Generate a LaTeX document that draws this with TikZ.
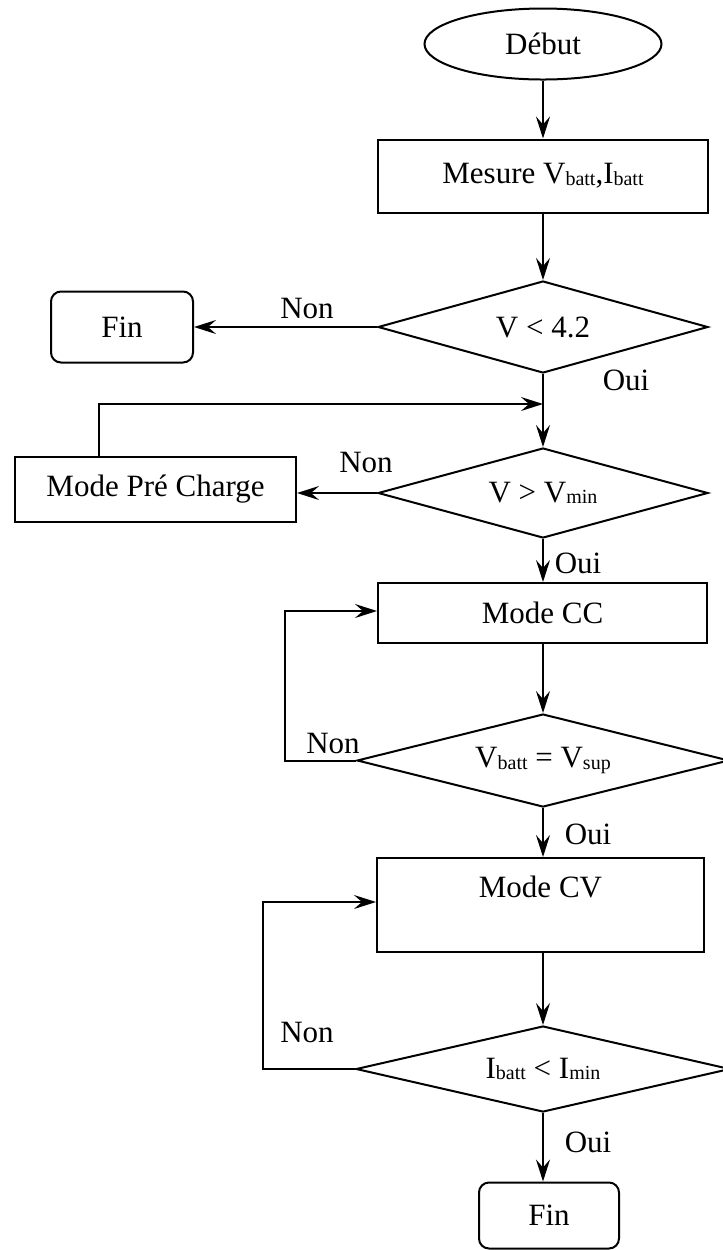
\documentclass[tikz,border=0pt]{standalone}
\usepackage{fontspec}
\setmainfont{Liberation Serif}
\usetikzlibrary{arrows.meta}
\usetikzlibrary{shapes.geometric}

% lowered small index, as in V_batt
\newcommand{\idx}[1]{\raisebox{-0.7pt}{\fontsize{10}{11}\selectfont #1}}

\begin{document}
\begin{tikzpicture}[x=0.5pt,y=-0.5pt,
        every node/.style={font=\fontsize{15.5}{18}\selectfont},
        bloc/.style={draw,line width=1pt,inner sep=2pt},
        test/.style={draw,diamond,line width=1pt,inner sep=0pt,aspect=3.6},
        fleche/.style={-{Stealth[length=11pt,width=7pt,inset=4pt]},line width=1pt},
        fine/.style={-{Stealth[length=11pt,width=7pt,inset=4pt]},line width=0.7pt}]
        \useasboundingbox (0,0) rectangle (723,1250);

        % blocs
        \node[bloc,ellipse,minimum width=118.5pt,minimum height=35.5pt] (debut) at (543,44) {Début};
        \node[bloc,minimum width=165pt,minimum height=36.5pt] (mesure) at (543,176) {Mesure V\idx{batt},I\idx{batt}};
        \node[bloc,rounded corners=5pt,minimum width=71pt,minimum height=35.5pt] (fin1) at (122,327) {Fin};
        \node[test,minimum width=165pt,minimum height=46pt] (t1) at (543,327) {V < 4.2};
        \node[bloc,minimum width=140.5pt,minimum height=32.5pt] (pre) at (155.5,489.5) {Mode Pré Charge};
        \node[test,minimum width=165pt,minimum height=45pt] (t2) at (543,493) {V > V\idx{min}};
        \node[bloc,minimum width=164.5pt,minimum height=30pt] (cc) at (542.5,613) {Mode CC};
        \node[test,minimum width=186pt,minimum height=46.5pt] (t3) at (543,760.5) {V\idx{batt} = V\idx{sup}};
        \node[bloc,align=center,minimum width=163.5pt,minimum height=47pt] (cv) at (540.5,905) {Mode CV\\~};
        \node[test,minimum width=187pt,minimum height=43pt] (t4) at (543,1069) {I\idx{batt} < I\idx{min}};
        \node[bloc,rounded corners=5pt,minimum width=70pt,minimum height=33pt] (fin2) at (549,1215.5) {Fin};

        % points de retour
        \coordinate (j1) at (543,404);
        \coordinate (r1) at (99,404);
        \coordinate (r2) at (285,611);
        \coordinate (r3) at (263,902);

        % liaisons
        \draw[fleche] (debut) -- (mesure);
        \draw[fleche] (mesure) -- (t1);
        \draw[fleche] (t1.west) -- (fin1.east);
        \draw[fleche] (t1.south) -- (t2.north);
        \draw[fleche] (t2.west) -- (t2.west -| pre.east);
        \draw[fleche] (r1 |- pre.north) -- (r1) -- (j1);
        \draw[fleche] (t2.south) -- (cc.north -| t2.south);
        \draw[fleche] (cc.south -| t3.north) -- (t3.north);
        \draw[fleche] (t3.west) -| (r2) -- (r2 -| cc.west);
        \draw[fleche] (t3.south) -- (t3.south |- cv.north);
        \draw[fine] (t4.north |- cv.south) -- (t4.north);
        \draw[fleche] (t4.west) -| (r3) -- (r3 -| cv.west);
        \draw[fine] (t4.south) -- (t4.south |- fin2.north);

        % Oui / Non
        \node (non1) at (307,308) {Non};
        \node (oui1) at (626,380) {Oui};
        \node (non2) at (366,462) {Non};
        \node (oui2) at (578,563) {Oui};
        \node (non3) at (333,743) {Non};
        \node (oui3) at (588,834) {Oui};
        \node (non4) at (307,1032) {Non};
        \node (oui4) at (588,1142) {Oui};
\end{tikzpicture}
\end{document}
